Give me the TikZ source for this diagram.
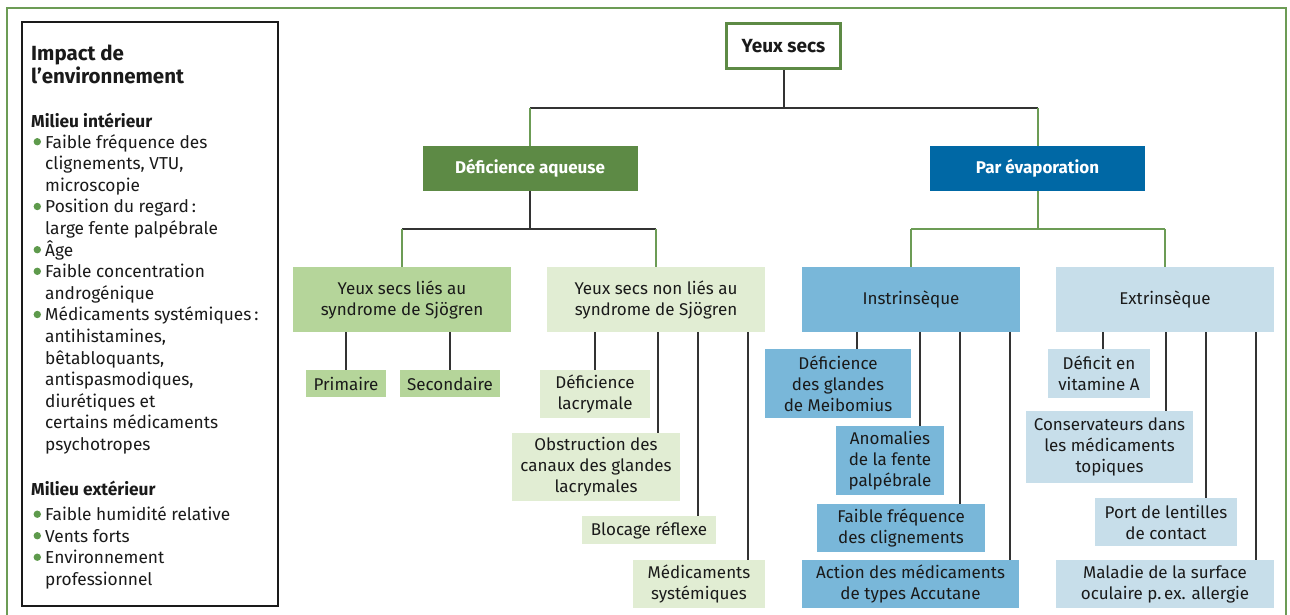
\documentclass[tikz,border=0pt]{standalone}
\usepackage{fontspec}
\setmainfont{Fira Sans}
\definecolor{frameG}{HTML}{6C9C55}
\definecolor{daG}{HTML}{5D8A45}
\definecolor{sjG}{HTML}{B5D59A}
\definecolor{nsjG}{HTML}{E1EDD3}
\definecolor{peB}{HTML}{0068A5}
\definecolor{inB}{HTML}{79B7D9}
\definecolor{exB}{HTML}{C7DEEA}
\definecolor{lineD}{HTML}{333333}
\definecolor{txtD}{HTML}{1A1A1A}
\definecolor{bulG}{HTML}{5E9A4C}
\newcommand{\bxfont}{\fontsize{17}{21}\selectfont}
\newcommand{\ltfont}{\fontsize{17.3}{21.6}\selectfont}
\newcommand{\ttlfont}{\fontsize{20.5}{23}\selectfont\bfseries}
\newcommand{\hdfont}{\fontsize{17.3}{21.6}\selectfont\bfseries}
\newcommand{\mbfont}{\fontsize{17}{21}\selectfont\bfseries}
\begin{document}
\begin{tikzpicture}[x=1pt,y=-1pt,
  conn/.style={draw=lineD, line width=2pt},
  gconn/.style={draw=frameG, line width=2pt},
  bx/.style={inner sep=0pt, align=center, font=\bxfont, text=txtD},
  mainbx/.style={bx, font=\mbfont, text=white, minimum width=215pt, minimum height=45pt},
  lt/.style={inner sep=0pt, align=left, font=\ltfont, text=txtD, anchor=base west},
  bul/.style={fill=bulG}]
\useasboundingbox (0,0) rectangle (1290,614);
\fill[white] (0,0) rectangle (1290,614);
% outer frame
\draw[frameG, line width=2.5pt] (7,620) -- (7,8) -- (1286,8) -- (1286,620);
% left panel (anchors at the baseline of the last line)
\draw[txtD, line width=1.6pt] (22,22) rectangle (278,606);
\node[lt, font=\ttlfont] (title) at (31,83) {Impact de\\l’environnement};
\node[lt, font=\hdfont] (hin) at (31,127.5) {Milieu intérieur};
\node[lt] (i1) at (45,191.2) {Faible fréquence des\\clignements, VTU,\\microscopie};
\node[lt] (i2) at (45,234.4) {Position du regard\,:\\large fente palpébrale};
\node[lt] (i3) at (45,256) {Âge};
\node[lt] (i4) at (45,299.2) {Faible concentration\\androgénique};
\node[lt] (i5) at (45,450.4) {Médicaments systémiques\,:\\antihistamines,\\bêtabloquants,\\antispasmodiques,\\diurétiques et\\certains médicaments\\psychotropes};
\node[lt, font=\hdfont] (hex) at (31,495) {Milieu extérieur};
\node[lt] (e1) at (45,520.5) {Faible humidité relative};
\node[lt] (e2) at (45,542) {Vents forts};
\node[lt] (e3) at (45,585.1) {Environnement\\professionnel};
\foreach \yy in {148,212.8,256,277.6,320.8,520.5,542,563.5}
  \fill[bul] (37.3,\yy-6.3) circle (3.7);
% main boxes
\node[bx, font=\fontsize{19}{23}\selectfont\bfseries, fill=white, draw=daG, line width=3pt, minimum width=114pt, minimum height=45pt] (ys) at (783.5,46) {Yeux secs};
\node[mainbx, fill=daG] (da) at (530,168.5) {Déficience aqueuse};
\node[mainbx, fill=peB] (pe) at (1037.5,168.5) {Par évaporation};
\node[bx, fill=sjG, minimum width=218pt, minimum height=65pt] (sj) at (402,299.5) {Yeux secs liés au\\syndrome de Sjögren};
\node[bx, fill=nsjG, minimum width=218pt, minimum height=65pt] (nsj) at (656,299.5) {Yeux secs non liés au\\syndrome de Sjögren};
\node[bx, fill=inB, minimum width=218pt, minimum height=65pt] (intr) at (911,299.5) {Instrinsèque};
\node[bx, fill=exB, minimum width=218pt, minimum height=65pt] (extr) at (1165,299.5) {Extrinsèque};
% level 4 left
\node[bx, fill=sjG, minimum width=80pt, minimum height=27pt] (prim) at (346,383.5) {Primaire};
\node[bx, fill=sjG, minimum width=100pt, minimum height=27pt] (sec) at (450,383.5) {Secondaire};
\node[bx, fill=nsjG, minimum width=110pt, minimum height=48pt] (dlac) at (595,394) {Déficience\\lacrymale};
\node[bx, fill=nsjG, minimum width=168pt, minimum height=68pt] (obs) at (596,467) {Obstruction des\\canaux des glandes\\lacrymales};
\node[bx, fill=nsjG, minimum width=134pt, minimum height=28pt] (bloc) at (649,530) {Blocage réflexe};
\node[bx, fill=nsjG, minimum width=132pt, minimum height=48pt] (meds) at (699,584) {Médicaments\\systémiques};
% level 4 right
\node[bx, fill=inB, minimum width=146pt, minimum height=69pt] (meib) at (838,383.5) {Déficience\\des glandes\\de Meibomius};
\node[bx, fill=inB, minimum width=108pt, minimum height=69pt] (anom) at (890,460.5) {Anomalies\\de la fente\\palpébrale};
\node[bx, fill=inB, minimum width=168pt, minimum height=48pt] (ffreq) at (901,528) {Faible fréquence\\des clignements};
\node[bx, fill=inB, minimum width=217pt, minimum height=48pt] (acc) at (910.5,584) {Action des médicaments\\de types Accutane};
\node[bx, fill=exB, minimum width=102pt, minimum height=49pt] (vita) at (1099,373.5) {Déficit en\\vitamine A};
\node[bx, fill=exB, minimum width=167pt, minimum height=72pt] (cons) at (1109.5,447) {Conservateurs dans\\les médicaments\\topiques};
\node[bx, fill=exB, minimum width=142pt, minimum height=48pt] (port) at (1166,522) {Port de lentilles\\de contact};
\node[bx, fill=exB, minimum width=218pt, minimum height=48pt] (mal) at (1165,584) {Maladie de la surface\\oculaire p.\,ex. allergie};
% connectors level 1-2
\coordinate (j0) at (783.5,108);
\draw[conn] (ys.south) -- (j0);
\draw[conn] (da.north |- j0) -- (pe.north |- j0);
\draw[gconn] (da.north |- j0) -- (da.north);
\draw[gconn] (pe.north |- j0) -- (pe.north);
% level 2-3
\coordinate (j1) at (530,229);
\draw[conn] (da.south) -- (j1);
\draw[conn] (sj.north |- j1) -- (nsj.north |- j1);
\draw[gconn] (sj.north |- j1) -- (sj.north);
\draw[gconn] (nsj.north |- j1) -- (nsj.north);
\coordinate (j2) at (1037.5,229);
\draw[gconn] (pe.south) -- (j2);
\draw[gconn] (intr.north |- j2) -- (extr.north |- j2);
\draw[gconn] (intr.north |- j2) -- (intr.north);
\draw[gconn] (extr.north |- j2) -- (extr.north);
% level 3-4
\draw[conn] (sj.south -| prim.north) -- (prim.north);
\draw[conn] (sj.south -| sec.north) -- (sec.north);
\draw[conn] (nsj.south -| dlac.north) -- (dlac.north);
\coordinate (tobs) at (658,433);
\coordinate (tbloc) at (698,516);
\coordinate (tmeds) at (748,560);
\draw[conn] (nsj.south -| tobs) -- (tobs);
\draw[conn] (nsj.south -| tbloc) -- (tbloc);
\draw[conn] (nsj.south -| tmeds) -- (tmeds);
\coordinate (tmeib) at (857,349);
\coordinate (tanom) at (920,426);
\coordinate (tffreq) at (960,504);
\coordinate (tacc) at (1010,560);
\draw[conn] (intr.south -| tmeib) -- (tmeib);
\draw[conn] (intr.south -| tanom) -- (tanom);
\draw[conn] (intr.south -| tffreq) -- (tffreq);
\draw[conn] (intr.south -| tacc) -- (tacc);
\coordinate (tvita) at (1103,349);
\coordinate (tcons) at (1166,411);
\coordinate (tport) at (1206,498);
\coordinate (tmal) at (1256,560);
\draw[conn] (extr.south -| tvita) -- (tvita);
\draw[conn] (extr.south -| tcons) -- (tcons);
\draw[conn] (extr.south -| tport) -- (tport);
\draw[conn] (extr.south -| tmal) -- (tmal);
\end{tikzpicture}
\end{document}
